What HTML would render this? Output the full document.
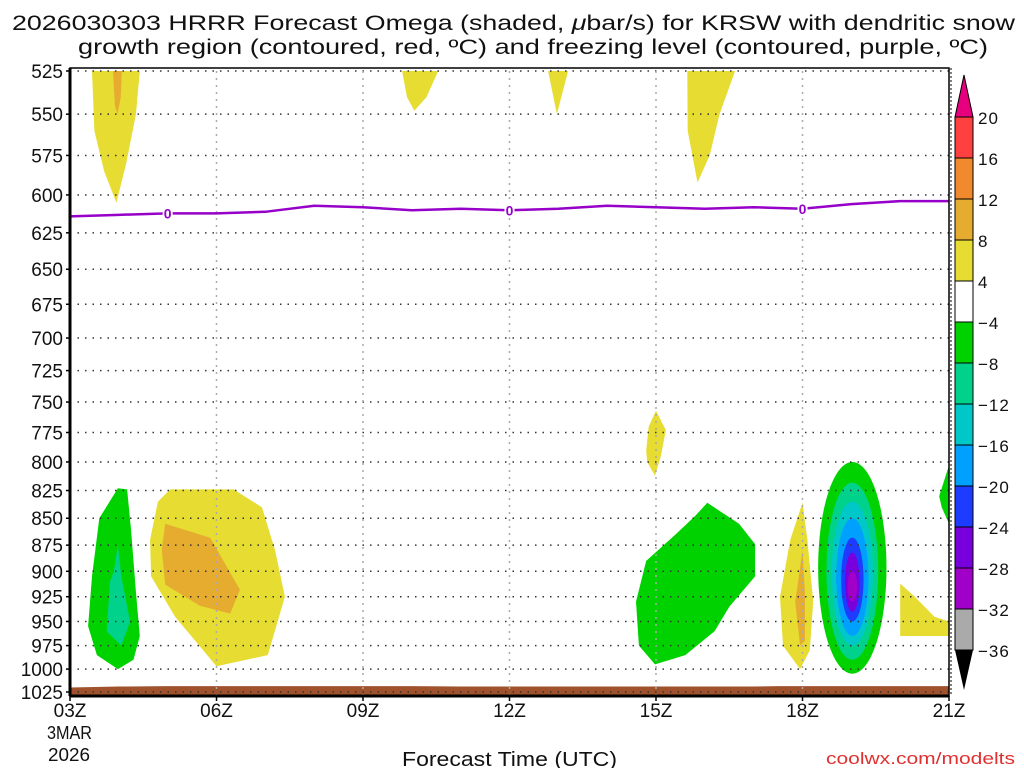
<!DOCTYPE html>
<html><head><meta charset="utf-8"><style>
body{margin:0;background:#fff;width:1024px;height:768px;overflow:hidden}
svg{display:block;font-family:"Liberation Sans","DejaVu Sans",sans-serif}
</style></head><body>
<svg id="c" width="1024" height="768" xmlns="http://www.w3.org/2000/svg">
<text x="12" y="30" font-size="21" fill="#111" textLength="1003" lengthAdjust="spacingAndGlyphs">2026030303 HRRR Forecast Omega (shaded, <tspan font-style="italic">μ</tspan>bar/s) for KRSW with dendritic snow</text>
<text x="78" y="54" font-size="21" fill="#111" textLength="910" lengthAdjust="spacingAndGlyphs">growth region (contoured, red, ºC) and freezing level (contoured, purple, ºC)</text>
<text x="47" y="739" font-size="18" fill="#111" textLength="45" lengthAdjust="spacingAndGlyphs">3MAR</text>
<text x="48" y="761" font-size="18" fill="#111" textLength="42" lengthAdjust="spacingAndGlyphs">2026</text>
<text x="402" y="766" font-size="20" fill="#111" textLength="215" lengthAdjust="spacingAndGlyphs">Forecast Time (UTC)</text>
<text x="826" y="764" font-size="17" fill="#e03030" textLength="189" lengthAdjust="spacingAndGlyphs">coolwx.com/modelts</text>
</svg>
<script>
const pressureTicks=[525,550,575,600,625,650,675,700,725,750,775,800,825,850,875,900,925,950,975,1000,1025];
const hourTicks=[3,6,9,12,15,18,21];
const hourLabels=["03Z","06Z","09Z","12Z","15Z","18Z","21Z"];
const freezeHours=[3,4,5,6,7,8,9,10,11,12,13,14,15,16,17,18,19,20,21];
const freezeP=[614,613,612,612,611,607,608,610,609,610,609,607,608,609,608,609,606,604,604];
const freezeLabelHours=[5,12,18];
const terrainHours=[3,4,5,10,11,17,17.5,21];
const terrainP=[1020,1019,1018.5,1018.5,1019,1019,1018.5,1018.5];
const cbLevels=["20","16","12","8","4","\u22124","\u22128","\u221212","\u221216","\u221220","\u221224","\u221228","\u221232","\u221236"];
const cbColors=["#ff4040","#f08a2c","#e6ac30","#e6dc32","#ffffff","#00d200","#00d28c","#00c8c8","#00a0ff","#1e3cff","#7800dc","#a000c8","#aaaaaa"];
const blobs=[
["#e6dc32",[[3.45,525],[3.5,560],[3.7,585],[3.95,605],[4.15,580],[4.35,550],[4.43,525]]],
["#e6ac30",[[3.88,525],[3.92,545],[3.97,550],[4.04,540],[4.06,525]]],
["#e6dc32",[[9.8,525],[9.9,540],[10.05,548],[10.3,540],[10.54,525]]],
["#e6dc32",[[12.79,525],[12.97,550],[13.2,525]]],
["#e6dc32",[[15.64,525],[15.65,560],[15.85,592],[16.1,575],[16.3,550],[16.62,525]]],
["#e6dc32",[[14.8,790],[14.85,770],[15.0,757],[15.2,773],[15.1,795],[14.98,812],[14.82,800]]],
["#00d200",[[3.98,823],[4.17,824],[4.25,860],[4.35,920],[4.43,965],[4.3,990],[3.98,1000],[3.55,985],[3.37,955],[3.45,905],[3.6,850]]],
["#00d28c",[[3.98,875],[4.05,905],[4.23,950],[4.05,975],[3.75,960],[3.82,910],[3.9,900]]],
["#e6dc32",[[5.05,824],[6.35,824],[6.93,840],[7.2,880],[7.4,925],[7.05,985],[6.0,997],[5.4,960],[5.15,945],[4.66,905],[4.64,870],[4.8,835]]],
["#e6ac30",[[4.95,855],[5.87,868],[6.48,918],[6.28,942],[5.66,934],[4.95,913],[4.88,879]]],
["#00d200",[[16.05,836],[16.7,855],[17.03,874],[17.03,905],[16.5,935],[16.2,960],[15.6,985],[14.98,995],[14.65,975],[14.59,930],[14.8,890],[15.4,865],[15.8,848]]],
["#e6dc32",[[18.0,836],[18.1,870],[18.22,930],[18.15,980],[17.95,1000],[17.6,975],[17.54,925],[17.75,870]]],
["#e6ac30",[[18.0,880],[18.05,920],[18.05,970],[17.95,975],[17.85,930]]],
["#e6dc32",[[20.0,912],[20.3,925],[20.7,945],[21.0,950],[21.0,965],[20.0,965]]],
["#00d200",[[21.0,803],[20.8,830],[20.85,840],[21.0,855]]]
];
const cellCenter=[19.02,19.02,19.02,19.02,19.02,19.02,19.02];
const cellHalf=[0.7,0.53,0.42,0.33,0.23,0.15,0.1];
const cellTop=[800,818,835,850,868,882,900];
const cellBot=[1005,990,975,965,950,940,930];
const cellColors=["#00d200","#00d28c","#00c8c8","#00a0ff","#1e3cff","#7800dc","#a000c8"];

const L=70,R=949,T=71,B=692;
const x=h=>L+(h-3)*(R-L)/18;
const y=p=>T+Math.log(p/525)/Math.log(1025/525)*(B-T);
const svg=document.getElementById('c');
const NS="http://www.w3.org/2000/svg";
function mk(tag,at,parent){const e=document.createElementNS(NS,tag);for(const k in at)e.setAttribute(k,at[k]);(parent||svg).appendChild(e);return e;}
blobs.forEach((b,i)=>{
 const pts=b[1].map(q=>x(q[0]).toFixed(1)+","+y(q[1]).toFixed(1)).join(" ");
 const e=mk('polygon',{points:pts,fill:b[0]});
 
 
});
cellCenter.forEach((c,i)=>{
 const cx=x(c),rx=x(c+cellHalf[i])-cx,t=y(cellTop[i]),bt=y(cellBot[i]);
 const e=mk('ellipse',{cx:cx,cy:(t+bt)/2,rx:rx,ry:(bt-t)/2,fill:cellColors[i]});
 
 
});
let tp="";terrainHours.forEach((h,i)=>tp+=x(h)+","+y(terrainP[i])+" ");
tp+=x(21)+","+(B+4)+" "+x(3)+","+(B+4);
const ter=mk('polygon',{points:tp,fill:"#a0522d"});


pressureTicks.forEach(p=>{
 const g=mk('line',{x1:L,x2:R,y1:y(p),y2:y(p),stroke:"#333","stroke-width":1.5,"stroke-dasharray":"1.5 6"});
 
 
 mk('line',{x1:L-4,x2:L,y1:y(p),y2:y(p),stroke:"#000","stroke-width":1.5});
 const t=mk('text',{x:L-7,y:y(p)+7,"text-anchor":"end","font-size":19,fill:"#111"});
 t.textContent=p;
 
 
});
hourTicks.forEach((h,i)=>{
 if(i>0&&i<hourTicks.length-1){
  const g=mk('line',{x1:x(h),x2:x(h),y1:T,y2:B+4,stroke:"#aaa","stroke-width":1.5,"stroke-dasharray":"2 5"});
  
  
 }
 mk('line',{x1:x(h),x2:x(h),y1:B+4,y2:B+9,stroke:"#000","stroke-width":1.5});
 const t=mk('text',{x:x(h),y:B+25,"text-anchor":"middle","font-size":19,fill:"#111"});
 t.textContent=hourLabels[i];
 
 
});
const fl=mk('polyline',{points:freezeHours.map((h,i)=>x(h)+","+y(freezeP[i])).join(" "),fill:"none",stroke:"#9600c8","stroke-width":2.5});


freezeLabelHours.forEach(h=>{
 const i=freezeHours.indexOf(h);
 mk('rect',{x:x(h)-5,y:y(freezeP[i])-7,width:10,height:14,fill:"#fff"});
 const t=mk('text',{x:x(h),y:y(freezeP[i])+5,"text-anchor":"middle","font-size":14,"font-weight":"bold",fill:"#9600c8"});
 t.textContent="0";
 
 
});
const fr=mk('rect',{x:L,y:T-3,width:R-L,height:B+7-T,fill:"none",stroke:"#000","stroke-width":1.5});


mk('line',{x1:L,x2:R,y1:B+4,y2:B+4,stroke:"#000","stroke-width":3});
mk('line',{x1:L,x2:L,y1:T-3,y2:B+4,stroke:"#000","stroke-width":3});
mk('line',{x1:R+2,x2:R+2,y1:T-3,y2:B+4,stroke:"#000","stroke-width":1,"stroke-dasharray":"2 2"});
const cbX=955,cbW=18,cbT=117,cbStep=(650-117)/13;
const cb=mk('g',{});


mk('polygon',{points:`${cbX},${cbT} ${cbX+cbW},${cbT} ${cbX+cbW/2},${75}`,fill:"#e6007e",stroke:"#000"},cb);
cbColors.forEach((c,i)=>mk('rect',{x:cbX,y:cbT+i*cbStep,width:cbW,height:cbStep,fill:c,stroke:"#000","stroke-width":1},cb));
mk('polygon',{points:`${cbX},650 ${cbX+cbW},650 ${cbX+cbW/2},690`,fill:"#000"},cb);
cbLevels.forEach((l,i)=>{
 const t=mk('text',{x:cbX+cbW+5,y:cbT+i*cbStep+7,"font-size":17,fill:"#111","letter-spacing":"1"},cb);
 t.textContent=l;
});
</script>
</body></html>
